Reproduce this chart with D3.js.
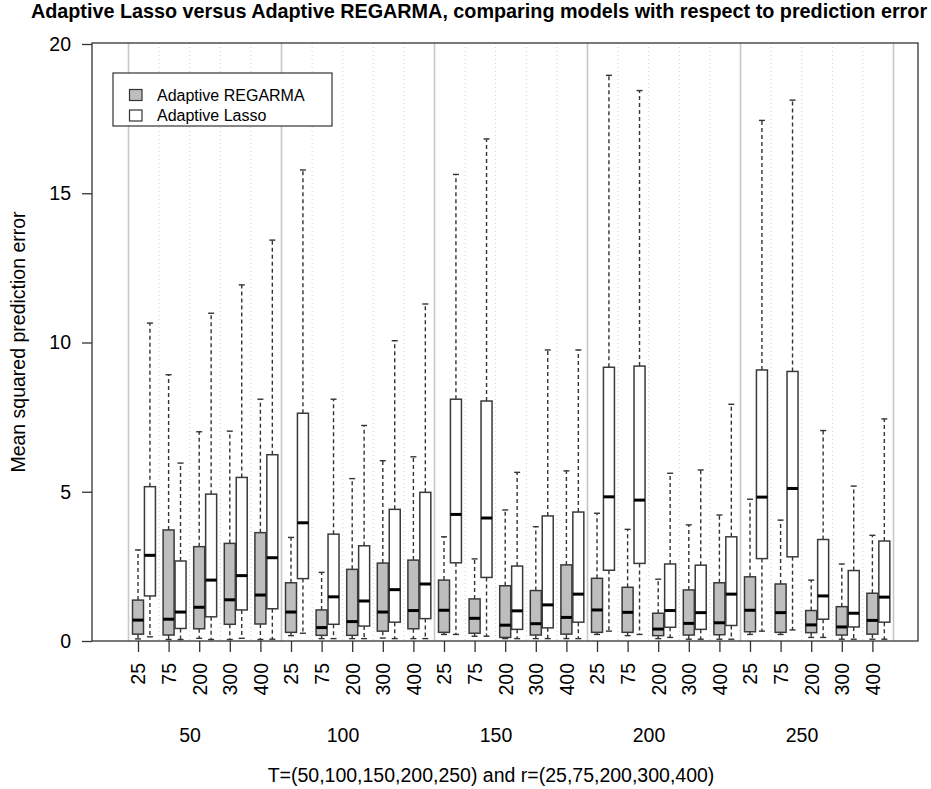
<!DOCTYPE html>
<html>
<head>
<meta charset="utf-8">
<script src="https://cdn.jsdelivr.net/npm/d3@7"></script>
<style>
  body { margin: 0; background: #fff; }
  svg { display: block; font-family: "Liberation Sans", Arial, sans-serif; }
</style>
</head>
<body>
<svg id="chart" width="931" height="789"></svg>
<script>
// ---- data ----
const T_values = [50, 100, 150, 200, 250];
const r_values = [25, 75, 200, 300, 400];
const yTicks = [0, 5, 10, 15, 20];
const seriesNames = ["Adaptive REGARMA", "Adaptive Lasso"];

// Adaptive REGARMA (grey), ordered T=50 r=25..400, T=100 ..., T=250
const regarma_low  = [0.07, 0.05, 0.09, 0.05, 0.05, 0.18, 0.08, 0.08, 0.10, 0.08, 0.22, 0.16, 0.08, 0.08, 0.08, 0.22, 0.18, 0.08, 0.06, 0.06, 0.22, 0.22, 0.12, 0.06, 0.06];
const regarma_q1   = [0.23, 0.20, 0.41, 0.56, 0.57, 0.29, 0.19, 0.19, 0.33, 0.41, 0.29, 0.26, 0.12, 0.20, 0.23, 0.29, 0.29, 0.18, 0.20, 0.21, 0.31, 0.29, 0.28, 0.20, 0.23];
const regarma_med  = [0.70, 0.73, 1.13, 1.38, 1.54, 0.97, 0.45, 0.65, 0.97, 1.02, 1.03, 0.76, 0.53, 0.58, 0.79, 1.04, 0.96, 0.40, 0.59, 0.61, 1.03, 0.95, 0.54, 0.47, 0.69];
const regarma_q3   = [1.37, 3.72, 3.16, 3.27, 3.63, 1.95, 1.04, 2.40, 2.61, 2.71, 2.04, 1.41, 1.85, 1.69, 2.55, 2.10, 1.80, 0.93, 1.71, 1.95, 2.15, 1.91, 1.02, 1.15, 1.60];
const regarma_high = [3.05, 8.92, 7.01, 7.03, 8.10, 3.47, 2.30, 5.44, 6.04, 6.17, 3.49, 2.75, 4.39, 3.83, 5.70, 4.28, 3.74, 2.07, 3.89, 4.22, 4.75, 4.05, 2.04, 2.58, 3.54];

// Adaptive Lasso (white)
const lasso_low  = [0.14, 0.05, 0.05, 0.09, 0.06, 0.26, 0.08, 0.08, 0.08, 0.08, 0.22, 0.16, 0.08, 0.08, 0.08, 0.33, 0.22, 0.12, 0.06, 0.06, 0.33, 0.37, 0.12, 0.06, 0.06];
const lasso_q1   = [1.51, 0.42, 0.81, 1.04, 1.08, 2.09, 0.56, 0.50, 0.63, 0.75, 2.62, 2.13, 0.39, 0.44, 0.63, 2.37, 2.60, 0.46, 0.39, 0.52, 2.76, 2.82, 0.73, 0.47, 0.63];
const lasso_med  = [2.87, 0.97, 2.04, 2.19, 2.79, 3.96, 1.48, 1.34, 1.72, 1.91, 4.24, 4.12, 1.01, 1.21, 1.57, 4.83, 4.72, 1.02, 0.95, 1.57, 4.82, 5.11, 1.51, 0.93, 1.47];
const lasso_q3   = [5.17, 2.68, 4.92, 5.48, 6.24, 7.63, 3.58, 3.19, 4.41, 4.98, 8.10, 8.04, 2.51, 4.19, 4.32, 9.17, 9.21, 2.58, 2.54, 3.49, 9.08, 9.03, 3.40, 2.36, 3.35];
const lasso_high = [10.65, 5.96, 10.98, 11.93, 13.43, 15.78, 8.10, 7.22, 10.06, 11.29, 15.63, 16.82, 5.65, 9.75, 9.75, 18.95, 18.44, 5.62, 5.73, 7.93, 17.44, 18.12, 7.05, 5.19, 7.44];

// ---- build ----
const nPos = T_values.length * r_values.length;
const positions = d3.range(nPos);

function makeBoxes(low, q1, med, q3, high, series, offset) {
  return positions.map(i => ({ i, low: low[i], q1: q1[i], med: med[i], q3: q3[i], high: high[i], series, offset }));
}
const boxes = makeBoxes(regarma_low, regarma_q1, regarma_med, regarma_q3, regarma_high, 0, 0)
  .concat(makeBoxes(lasso_low, lasso_q1, lasso_med, lasso_q3, lasso_high, 1, 0.39));

const svg = d3.select("#chart");
const plot = { left: 92, right: 918, top: 43, bottom: 641 };

const x = d3.scaleLinear().domain([0, nPos - 1]).range([138, 872.4]);
const y = d3.scaleLinear().domain([0, 20]).range([641, 44]);
const fills = ["#bebebe", "#ffffff"];
const boxW = 11;

// vertical grid lines
const gridPos = d3.range(nPos + 1).map(p => p - 0.31);
svg.append("g").selectAll("line").data(gridPos).join("line")
  .attr("x1", d => x(d)).attr("x2", d => x(d))
  .attr("y1", plot.top).attr("y2", plot.bottom)
  .attr("stroke", (d, k) => k % 5 === 0 ? "#c8c8c8" : "#d0d0d0")
  .attr("stroke-width", (d, k) => k % 5 === 0 ? 1.6 : 1)
  .attr("stroke-dasharray", (d, k) => k % 5 === 0 ? null : "1,3");

// boxes
const gBox = svg.append("g");
const bx = gBox.selectAll("g.box").data(boxes).join("g").attr("class", "box");
const cx = d => x(d.i + d.offset);

// whiskers (dashed)
bx.append("line")
  .attr("x1", cx).attr("x2", cx)
  .attr("y1", d => y(d.q3)).attr("y2", d => y(d.high))
  .attr("stroke", "#333").attr("stroke-width", 1.4).attr("stroke-dasharray", "4,3");
bx.append("line")
  .attr("x1", cx).attr("x2", cx)
  .attr("y1", d => y(d.q1)).attr("y2", d => y(d.low))
  .attr("stroke", "#333").attr("stroke-width", 1.4).attr("stroke-dasharray", "4,3");
// caps
bx.append("line")
  .attr("x1", d => cx(d) - 3).attr("x2", d => cx(d) + 3)
  .attr("y1", d => y(d.high)).attr("y2", d => y(d.high))
  .attr("stroke", "#333").attr("stroke-width", 1.4);
bx.append("line")
  .attr("x1", d => cx(d) - 3).attr("x2", d => cx(d) + 3)
  .attr("y1", d => y(d.low)).attr("y2", d => y(d.low))
  .attr("stroke", "#333").attr("stroke-width", 1.4);
// box
bx.append("rect")
  .attr("x", d => cx(d) - boxW / 2).attr("width", boxW)
  .attr("y", d => y(d.q3)).attr("height", d => y(d.q1) - y(d.q3))
  .attr("fill", d => fills[d.series])
  .attr("stroke", "#3a3a3a").attr("stroke-width", 1.5);
// median
bx.append("line")
  .attr("x1", d => cx(d) - boxW / 2).attr("x2", d => cx(d) + boxW / 2)
  .attr("y1", d => y(d.med)).attr("y2", d => y(d.med))
  .attr("stroke", "#000").attr("stroke-width", 3);

// frame
svg.append("rect")
  .attr("x", plot.left).attr("y", plot.top)
  .attr("width", plot.right - plot.left).attr("height", plot.bottom - plot.top)
  .attr("fill", "none").attr("stroke", "#333").attr("stroke-width", 1.3);

// y axis
const yAxis = svg.append("g").attr("transform", `translate(${plot.left},0)`)
  .call(d3.axisLeft(y).tickValues(yTicks).tickSize(10).tickPadding(11).tickFormat(d3.format("d")));
yAxis.select(".domain").remove();
yAxis.selectAll("line").attr("stroke", "#333").attr("stroke-width", 1.3);
yAxis.selectAll("text").attr("font-size", 19.5).attr("fill", "#000")
  .attr("font-family", "Liberation Sans, Arial, sans-serif");

// x axis
const xAxis = svg.append("g").attr("transform", `translate(0,${plot.bottom})`)
  .call(d3.axisBottom(x).tickValues(positions).tickSize(11).tickFormat(i => r_values[i % r_values.length]));
xAxis.select(".domain").remove();
xAxis.selectAll("line").attr("stroke", "#333").attr("stroke-width", 1.3);
xAxis.selectAll("text")
  .attr("font-size", 19.5).attr("fill", "#000")
  .attr("font-family", "Liberation Sans, Arial, sans-serif")
  .attr("transform", "rotate(-90)")
  .attr("x", -22).attr("y", 0).attr("dy", "0.35em")
  .style("text-anchor", "end");

// group labels (T)
svg.append("g").selectAll("text").data(T_values).join("text")
  .attr("x", (d, g) => x(g * r_values.length + 1.7))
  .attr("y", 742)
  .attr("text-anchor", "middle")
  .attr("font-size", 19.5)
  .text(d => d);

// axis titles
svg.append("text")
  .attr("x", 491).attr("y", 782)
  .attr("text-anchor", "middle").attr("font-size", 19.5)
  .text("T=(50,100,150,200,250) and r=(25,75,200,300,400)");

svg.append("text")
  .attr("transform", `translate(25,${(plot.top + plot.bottom) / 2}) rotate(-90)`)
  .attr("text-anchor", "middle").attr("font-size", 19.5)
  .text("Mean squared prediction error");

// title
svg.append("text")
  .attr("x", 479).attr("y", 18)
  .attr("text-anchor", "middle").attr("font-size", 19.8).attr("font-weight", "bold")
  .text("Adaptive Lasso versus Adaptive REGARMA, comparing models with respect to prediction error");

// legend
const lg = svg.append("g");
lg.append("rect").attr("x", 113).attr("y", 73).attr("width", 219).attr("height", 53)
  .attr("fill", "#fff").attr("stroke", "#333").attr("stroke-width", 1.2);
const li = lg.selectAll("g.item").data(seriesNames).join("g").attr("class", "item")
  .attr("transform", (d, k) => `translate(0,${95 + k * 20.5})`);
li.append("rect").attr("x", 129.5).attr("y", -5.5).attr("width", 12.5).attr("height", 11)
  .attr("fill", (d, k) => fills[k]).attr("stroke", "#333").attr("stroke-width", 1.2);
li.append("text").attr("x", 157).attr("y", 0).attr("dy", "0.35em")
  .attr("font-size", 16).text(d => d);
</script>
</body>
</html>
